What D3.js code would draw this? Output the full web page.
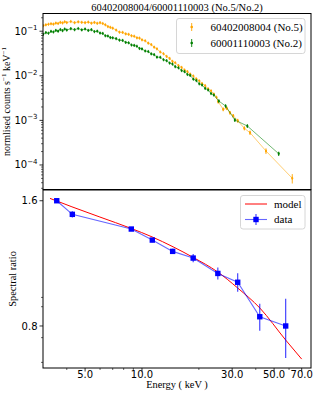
<!DOCTYPE html>
<html><head><meta charset="utf-8">
<script src="https://cdn.jsdelivr.net/npm/d3@7"></script>
<style>body{margin:0;background:#fff}svg{display:block}</style>
</head><body><svg id="c" width="318" height="397"></svg>
<script>
// ---------------- data ----------------
const chartTitle = "60402008004/60001110003 (No.5/No.2)";
const seriesNames = ["60402008004 (No.5)", "60001110003 (No.2)"];

const energyNo5 = [3.0,3.1,3.2,3.3,3.4,3.5,3.6,3.7,3.8,3.9,4.0,4.2,4.4,4.6,4.8,5.0,5.2,5.4,5.6,5.8,6.0,6.2,6.4,6.6,6.8,7.0,7.3,7.6,7.9,8.2,8.5,8.8,9.1,9.4,9.7,10.0,10.4,10.8,11.2,11.6,12.0,12.5,13.0,13.5,14.0,14.5,15.0,15.6,16.2,16.8,17.4,18.0,18.7,19.4,20.1,20.8,21.6,22.4,23.2,24.0,24.8,
  25.3,26.9,28.1,29.2,30.4,32.1,34.8,37.3,45.3,62.4];
const countsNo5 = [0.133,0.139,0.143,0.147,0.144,0.152,0.149,0.158,0.153,0.163,0.156,0.165,0.155,0.162,0.158,0.155,0.160,0.151,0.157,0.150,0.155,0.149,0.139,0.127,0.122,0.117,0.106,0.095,0.094,0.087,0.085,0.079,0.077,0.071,0.070,0.064,0.061,0.054,0.050,0.0438,0.0402,0.0342,0.0312,0.0272,0.0245,0.0210,0.0196,0.0169,0.0154,0.0135,0.0124,0.0109,0.0099,0.0085,0.0077,0.0067,0.0060,0.0051,0.0046,0.0039,0.0033,
  0.00262,0.00177,0.00187,0.00149,0.00127,0.000985,0.000665,0.00053,0.000206,0.0000504];
const errTailNo5 = [0.00022,0.00017,0.00017,0.00014,0.00012,0.0001,0.00007,0.00006,0.00003,0.000012];

const energyNo2 = [3.0,3.1,3.2,3.3,3.4,3.5,3.6,3.7,3.8,3.9,4.0,4.2,4.4,4.6,4.8,5.0,5.2,5.4,5.6,5.8,6.0,6.2,6.4,6.6,6.8,7.0,7.3,7.6,7.9,8.2,8.5,8.8,9.1,9.4,9.7,10.0,10.4,10.8,11.2,11.6,12.0,12.5,13.0,13.5,14.0,14.5,15.0,15.6,16.2,16.8,17.4,18.0,18.7,19.4,20.1,20.8,21.6,22.4,23.2,24.0,
  25.5,27.7,31.0,36.1,52.9];
const countsNo2 = [0.085,0.093,0.090,0.099,0.096,0.104,0.100,0.109,0.103,0.112,0.106,0.114,0.108,0.115,0.107,0.112,0.104,0.108,0.098,0.100,0.091,0.089,0.079,0.078,0.072,0.071,0.068,0.063,0.062,0.056,0.055,0.049,0.048,0.046,0.041,0.040,0.036,0.035,0.031,0.0298,0.0262,0.0260,0.0229,0.0218,0.0193,0.0183,0.0160,0.0151,0.0131,0.0124,0.0107,0.0102,0.0084,0.0078,0.0066,0.0062,0.0052,0.0048,0.0040,0.0037,
  0.00272,0.0021,0.00102,0.000748,0.000179];
const errTailNo2 = [0.00022,0.00018,0.0001,0.00007,0.00002];

const ratioEnergy = [3.54,4.28,8.78,11.34,14.53,18.66,25.2,32.1,42.0,57.6];
const ratioValue  = [1.600,1.484,1.368,1.287,1.209,1.165,1.070,1.019,0.842,0.800];
const ratioErr    = [0.012,0.025,0.015,0.015,0.018,0.026,0.036,0.052,0.063,0.13];

const modelEnergy = [3.26,4.26,5.99,8.75,11.3,14.6,18.6,25.2,32.1,42.1,57.6,70];
const modelRatio  = [1.621,1.547,1.462,1.373,1.310,1.240,1.170,1.078,0.987,0.883,0.740,0.666];

const xMajorTicks = [5,10,30,50,70];
const xMinorTicks = [4,6,7,8,9,20,40,60];
const yTopMajor = [1e-4,1e-3,1e-2,1e-1];
const yTopLabels = ["\u22124","\u22123","\u22122","\u22121"];
const yBotMajor = [0.8,1.6];
const yBotMinor = [0.937,0.89,0.75,0.654];

// ---------------- layout ----------------
const svg = d3.select("#c");
const L = 43, R = 311;
const topT = 13.5, topB = 189.5, botT = 190, botB = 368;
const serif = "'Liberation Serif','Times New Roman',serif";
const sans = "'DejaVu Sans',sans-serif";
const cOrange = "#ffa500", cGreen = "#008000";

const x = d3.scaleLog().domain([2.994, 78.4]).range([L, R]);
const yT = d3.scaleLog().domain([2.82e-5, 0.2494]).range([topB, topT]);
const yB = d3.scaleLog().domain([0.634, 1.698]).range([botB, botT]);

// title
svg.append("text").attr("x", 177).attr("y", 10.5).attr("text-anchor","middle")
  .attr("font-family", serif).attr("font-size", 10.5).text(chartTitle);

// ---------- top panel ----------
const gTop = svg.append("g");
svg.append("clipPath").attr("id","ct").append("rect")
  .attr("x",L).attr("y",topT).attr("width",R-L).attr("height",topB-topT);

function drawSeries(E, C, errTail, color) {
  const g = gTop.append("g").attr("clip-path","url(#ct)");
  const pts = E.map((e,i)=>({e, c:C[i]}));
  g.append("path").datum(pts)
    .attr("d", d3.line().x(d=>x(d.e)).y(d=>yT(d.c)))
    .attr("fill","none").attr("stroke",color).attr("stroke-width",0.8).attr("stroke-opacity",0.7);
  const off = E.length - errTail.length;
  errTail.forEach((er,k)=>{
    const i = off + k;
    g.append("line").attr("x1",x(E[i])).attr("x2",x(E[i]))
      .attr("y1",yT(C[i]+er)).attr("y2",yT(Math.max(C[i]-er,1e-7)))
      .attr("stroke",color).attr("stroke-width",0.9);
  });
  g.selectAll(null).data(pts).enter().append("line")
    .attr("x1",d=>x(d.e)).attr("x2",d=>x(d.e))
    .attr("y1",d=>yT(d.c)-1.6).attr("y2",d=>yT(d.c)+1.6)
    .attr("stroke",color).attr("stroke-width",0.8);
  g.selectAll(null).data(pts).enter().append("circle")
    .attr("cx",d=>x(d.e)).attr("cy",d=>yT(d.c)).attr("r",1.1).attr("fill",color);
}
drawSeries(energyNo5, countsNo5, errTailNo5, cOrange);
drawSeries(energyNo2, countsNo2, errTailNo2, cGreen);

// top y ticks
const minorTop = [];
for (let k=-5;k<0;k++) for (let m=2;m<10;m++){ const v=m*Math.pow(10,k); if (v>2.82e-5 && v<0.2494) minorTop.push(v);}
minorTop.forEach(v=>gTop.append("line").attr("x1",L-2).attr("x2",L).attr("y1",yT(v)).attr("y2",yT(v)).attr("stroke","#000").attr("stroke-width",0.6));
yTopMajor.forEach((v,i)=>{
  gTop.append("line").attr("x1",L-3.5).attr("x2",L).attr("y1",yT(v)).attr("y2",yT(v)).attr("stroke","#000").attr("stroke-width",0.8);
  const t = gTop.append("text").attr("x",L-5.5).attr("y",yT(v)+3.5).attr("text-anchor","end")
    .attr("font-family",sans).attr("font-size",10);
  t.append("tspan").text("10");
  t.append("tspan").attr("dy",-4.5).attr("font-size",7).text(yTopLabels[i]);
});
gTop.append("rect").attr("x",L).attr("y",topT).attr("width",R-L).attr("height",topB-topT)
  .attr("fill","none").attr("stroke","#000").attr("stroke-width",1);

// top y label
const ylT = gTop.append("text").attr("transform","translate(10,101.5) rotate(-90)")
  .attr("text-anchor","middle").attr("font-family",serif).attr("font-size",10);
ylT.append("tspan").text("normlised counts s");
ylT.append("tspan").attr("dy",-4).attr("font-size",7).text("\u22121");
ylT.append("tspan").attr("dy",4).text(" keV");
ylT.append("tspan").attr("dy",-4).attr("font-size",7).text("\u22121");

// top legend
const lg = gTop.append("g");
lg.append("rect").attr("x",176.5).attr("y",18.5).attr("width",128.5).attr("height",35).attr("rx",2.5)
  .attr("fill","#fff").attr("fill-opacity",0.8).attr("stroke","#cccccc").attr("stroke-width",0.8);
[[cOrange,27],[cGreen,43]].forEach(([col,yy],i)=>{
  lg.append("line").attr("x1",191.7).attr("x2",191.7).attr("y1",yy-4).attr("y2",yy+4).attr("stroke",col).attr("stroke-width",0.9);
  lg.append("circle").attr("cx",191.7).attr("cy",yy).attr("r",1.3).attr("fill",col);
  lg.append("text").attr("x",210.5).attr("y",yy+3.8).attr("font-family",serif).attr("font-size",11).text(seriesNames[i]);
});

// ---------- bottom panel ----------
const gB = svg.append("g");
svg.append("clipPath").attr("id","cb").append("rect")
  .attr("x",L).attr("y",botT).attr("width",R-L).attr("height",botB-botT);
const gBp = gB.append("g").attr("clip-path","url(#cb)");
const mPts = modelEnergy.map((e,i)=>({e,v:modelRatio[i]}));
gBp.append("path").datum(mPts)
  .attr("d", d3.line().x(d=>x(d.e)).y(d=>yB(d.v)).curve(d3.curveMonotoneX))
  .attr("fill","none").attr("stroke","#ff0000").attr("stroke-width",1);
const rPts = ratioEnergy.map((e,i)=>({e,v:ratioValue[i],er:ratioErr[i]}));
gBp.append("path").datum(rPts)
  .attr("d", d3.line().x(d=>x(d.e)).y(d=>yB(d.v)))
  .attr("fill","none").attr("stroke","#0000ff").attr("stroke-opacity",0.6).attr("stroke-width",1.1);
gBp.selectAll(null).data(rPts).enter().append("line")
  .attr("x1",d=>x(d.e)).attr("x2",d=>x(d.e))
  .attr("y1",d=>yB(d.v+d.er)).attr("y2",d=>yB(d.v-d.er))
  .attr("stroke","#0000ff").attr("stroke-opacity",0.8).attr("stroke-width",1.1);
gBp.selectAll(null).data(rPts).enter().append("rect")
  .attr("x",d=>x(d.e)-2.7).attr("y",d=>yB(d.v)-2.7).attr("width",5.4).attr("height",5.4)
  .attr("fill","#0000ff");

// bottom y ticks
yBotMinor.forEach(v=>gB.append("line").attr("x1",L-2).attr("x2",L).attr("y1",yB(v)).attr("y2",yB(v)).attr("stroke","#000").attr("stroke-width",0.6));
yBotMajor.forEach(v=>{
  gB.append("line").attr("x1",L-3.5).attr("x2",L).attr("y1",yB(v)).attr("y2",yB(v)).attr("stroke","#000").attr("stroke-width",0.8);
  gB.append("text").attr("x",L-5.5).attr("y",yB(v)+3.6).attr("text-anchor","end")
    .attr("font-family",sans).attr("font-size",10).text(d3.format(".1f")(v));
});
// x ticks
xMinorTicks.forEach(v=>gB.append("line").attr("x1",x(v)).attr("x2",x(v)).attr("y1",botB).attr("y2",botB+2).attr("stroke","#000").attr("stroke-width",0.6));
xMajorTicks.forEach(v=>{
  gB.append("line").attr("x1",x(v)).attr("x2",x(v)).attr("y1",botB).attr("y2",botB+3.5).attr("stroke","#000").attr("stroke-width",0.8);
  gB.append("text").attr("x",x(v)).attr("y",377.8).attr("text-anchor","middle")
    .attr("font-family",sans).attr("font-size",10).text(d3.format(".1f")(v));
});
gB.append("rect").attr("x",L).attr("y",botT).attr("width",R-L).attr("height",botB-botT)
  .attr("fill","none").attr("stroke","#000").attr("stroke-width",1);

gB.append("text").attr("x",177).attr("y",387.8).attr("text-anchor","middle")
  .attr("font-family",serif).attr("font-size",10.4).text("Energy ( keV )");
gB.append("text").attr("transform","translate(16,279) rotate(-90)").attr("text-anchor","middle")
  .attr("font-family",serif).attr("font-size",10.4).text("Spectral ratio");

// bottom legend
const lb = gB.append("g");
lb.append("rect").attr("x",240.5).attr("y",195.5).attr("width",64.5).attr("height",33.5).attr("rx",2.5)
  .attr("fill","#fff").attr("fill-opacity",0.8).attr("stroke","#cccccc").attr("stroke-width",0.8);
lb.append("line").attr("x1",245).attr("x2",267).attr("y1",204).attr("y2",204).attr("stroke","#ff0000").attr("stroke-width",1);
lb.append("text").attr("x",274).attr("y",207.8).attr("font-family",serif).attr("font-size",11).text("model");
lb.append("line").attr("x1",245).attr("x2",267).attr("y1",219.5).attr("y2",219.5).attr("stroke","#0000ff").attr("stroke-opacity",0.6).attr("stroke-width",1.1);
lb.append("line").attr("x1",256).attr("x2",256).attr("y1",214).attr("y2",225).attr("stroke","#0000ff").attr("stroke-opacity",0.8).attr("stroke-width",1.1);
lb.append("rect").attr("x",253.3).attr("y",216.8).attr("width",5.4).attr("height",5.4).attr("fill","#0000ff");
lb.append("text").attr("x",274).attr("y",223.3).attr("font-family",serif).attr("font-size",11).text("data");
</script></body></html>
